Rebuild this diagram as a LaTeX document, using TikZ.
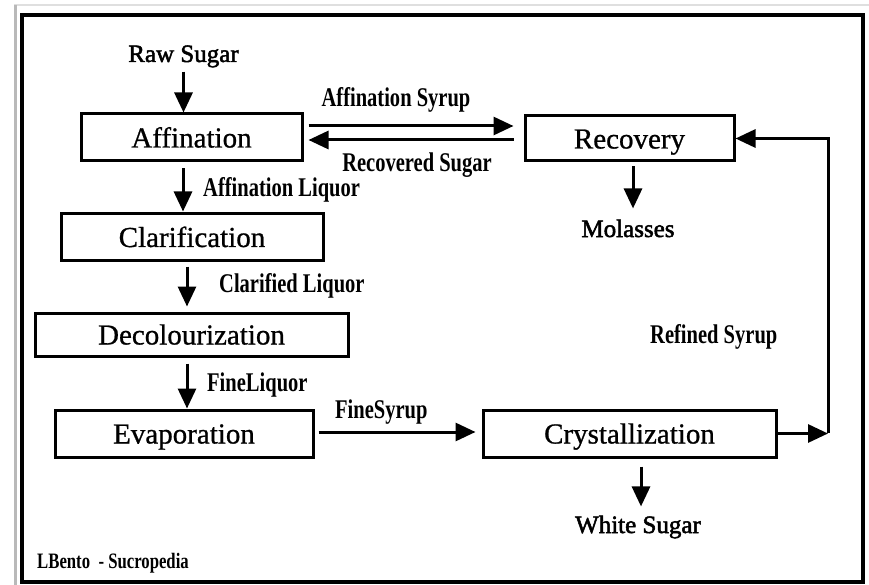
\documentclass[tikz,border=0pt]{standalone}
\usepackage{fontspec}
\setmainfont{Liberation Serif}
\newfontfamily\labfont[FakeStretch=0.76]{Liberation Serif}
\newfontfamily\plainfont[FakeBold=2]{Liberation Serif}
\newfontfamily\boxfont[FakeBold=0.8]{Liberation Serif}
\usetikzlibrary{arrows.meta}
\begin{document}
\begin{tikzpicture}[x=1pt,y=-1pt,
  box/.style={draw, line width=3pt, inner sep=0pt, text height=20pt, text depth=0pt,
    font=\boxfont\fontsize{29}{30}\selectfont},
  lab/.style={inner sep=0pt, font=\labfont\bfseries\fontsize{27}{28}\selectfont},
  plain/.style={inner sep=0pt, anchor=base, font=\plainfont\fontsize{25}{28}\selectfont},
  arr/.style={line width=3pt, -{Triangle[length=20pt,width=18pt]}}]
\useasboundingbox (0,0) rectangle (869,585);
% frame
\draw[gray!25, line width=1.5pt] (14,5) -- (869,5);
\draw[gray!55, line width=3pt] (15.5,5) -- (15.5,585);
\draw[line width=3.5pt] (22,15) rectangle (863,582);
% boxes
\node[box, minimum width=221pt, minimum height=47pt] (aff) at (191.5,137.5) {Affination};
\node[box, minimum width=209pt, minimum height=45pt] (rec) at (629.5,138.5) {Recovery};
\node[box, minimum width=262pt, minimum height=46pt] (cla) at (192,237) {Clarification};
\node[box, minimum width=313pt, minimum height=43pt] (dec) at (191.5,334.5) {Decolourization};
\node[box, minimum width=258pt, minimum height=47pt] (eva) at (184,433.5) {Evaporation};
\node[box, minimum width=293pt, minimum height=47pt] (cry) at (629.5,433.5) {Crystallization};
% plain texts
\node[plain] (raw) at (183.5,62) {Raw Sugar};
\node[plain] (mol) at (628,237) {Molasses};
\node[plain] (white) at (638,533) {White Sugar};
% labels
\node[lab, anchor=base] (affsyr) at (396,107) {Affination Syrup};
\node[lab, anchor=base] (recsug) at (417,172) {Recovered Sugar};
\node[lab, anchor=base west] (affliq) at (203,197) {Affination Liquor};
\node[lab, anchor=base west] (claliq) at (219,292) {Clarified Liquor};
\node[lab, anchor=base west] (fineliq) at (207,391) {FineLiquor};
\node[lab, anchor=base west] (finesyr) at (335,418) {FineSyrup};
\node[lab, anchor=base west] (refsyr) at (650,343) {Refined Syrup};
\node[inner sep=0pt, anchor=base west, font=\labfont\bfseries\fontsize{22}{24}\selectfont] (credit) at (37,568) {LBento~~- Sucropedia};
% connectors
\draw[arr, shorten <=4pt] (raw.south) -- (raw.south |- aff.north);
\draw[arr, shorten <=6pt, shorten >=1pt] ([xshift=-8.5pt]aff.south) -- ([xshift=-8.5pt]aff.south |- cla.north);
\draw[arr, shorten <=5pt, shorten >=5pt] ([xshift=-5pt]cla.south) -- ([xshift=-5pt]cla.south |- dec.north);
\draw[arr, shorten <=6pt] ([xshift=-4.5pt]dec.south) -- ([xshift=-4.5pt]dec.south |- eva.north);
\draw[arr, shorten <=4pt, shorten >=6pt] ([yshift=1.5pt]eva.east) -- ([yshift=1.5pt]eva.east -| cry.west);
\draw[arr, shorten <=5pt, shorten >=10pt] ([yshift=11.5pt]aff.east) -- ([yshift=11.5pt]aff.east -| rec.west);
\draw[arr, shorten <=10pt, shorten >=5pt] ([yshift=-1.5pt]rec.west) -- ([yshift=-1.5pt]rec.west -| aff.east);
\draw[arr, shorten <=4pt, shorten >=11pt] ([xshift=3.5pt]rec.south) -- ([xshift=3.5pt]rec.south |- mol.north);
\draw[arr, shorten <=8pt, shorten >=9pt] ([xshift=11.5pt]cry.south) -- ([xshift=11.5pt]cry.south |- white.north);
\coordinate (cor) at (828,433);
\draw[arr] (cry.east) -- (cry.east -| cor);
\draw[arr] (cor) -- (cor |- rec.east) -- (rec.east);
\end{tikzpicture}
\end{document}
